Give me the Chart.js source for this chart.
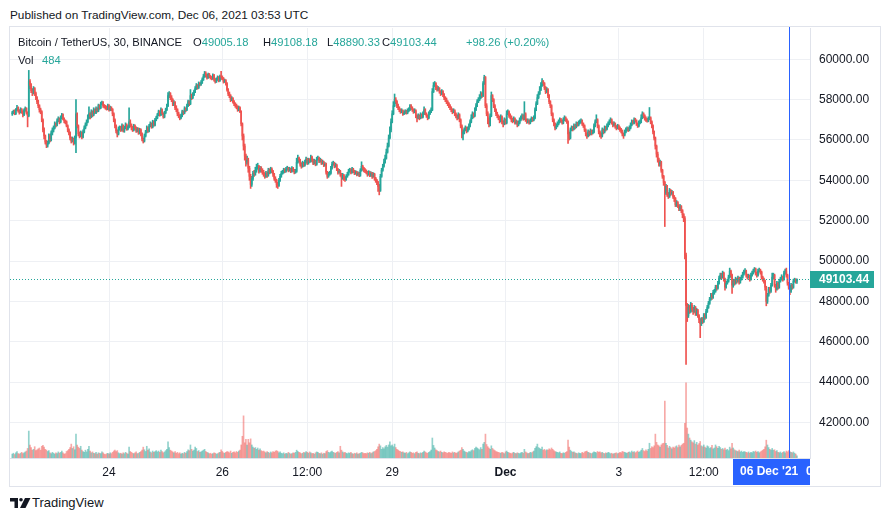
<!DOCTYPE html>
<html><head><meta charset="utf-8">
<script src="https://cdn.jsdelivr.net/npm/chart.js@4.4.1/dist/chart.umd.min.js"></script>
<style>
html,body{margin:0;padding:0;background:#fff;width:890px;height:521px;overflow:hidden;font-family:"Liberation Sans",Arial,sans-serif;color:#131722;}
#pub{position:absolute;left:10px;top:7px;font-size:11.8px;line-height:16px;white-space:nowrap;}
#frame{position:absolute;left:9px;top:26px;width:872px;height:461px;border:1px solid #e0e3eb;box-sizing:border-box;}
#wrap{position:absolute;left:10px;top:27px;width:870px;height:459px;}
.lg{position:absolute;font-size:11.2px;line-height:16px;white-space:nowrap;}
.g{color:#26a69a}
#foot{position:absolute;left:32px;top:495px;font-size:13px;line-height:16px;}
</style></head><body>
<div id="pub">Published on TradingView.com, Dec 06, 2021 03:53 UTC</div>
<div id="frame"></div>
<div id="wrap"><canvas id="c" width="870" height="459"></canvas></div>
<div class="lg" style="left:18px;top:34px">Bitcoin / TetherUS, 30, BINANCE</div>
<div class="lg" style="left:193px;top:34px">O<span class="g">49005.18</span></div>
<div class="lg" style="left:263px;top:34px">H<span class="g">49108.18</span></div>
<div class="lg" style="left:327px;top:34px">L<span class="g">48890.33</span></div>
<div class="lg" style="left:382px;top:34px">C<span class="g">49103.44</span></div>
<div class="lg g" style="left:466px;top:34px">+98.26 (+0.20%)</div>
<div class="lg" style="left:18px;top:52px">Vol</div>
<div class="lg g" style="left:42px;top:52px">484</div>
<svg width="21" height="10" viewBox="0 0 21 10" style="position:absolute;left:10px;top:498px">
<path d="M0 0H8V10H4.5V3.5H0Z" fill="#131722"/>
<circle cx="11" cy="1.8" r="1.8" fill="#131722"/>
<path d="M15 0H20.5L15.5 10H10Z" fill="#131722"/>
</svg>
<div id="foot">TradingView</div>
<script>
// ---- data (30-minute candles, Nov 22 07:00 UTC .. Dec 6 03:30 UTC) ----
const firstOpen = 57300;
const closes = [
57350,57420,57300,57500,57600,57450,57380,57520,57400,57250,
57480,57560,57350,57200,58900,58700,58450,58350,58550,58300,
58100,57900,57700,57500,57400,57000,56500,56200,55900,55750,
55850,56200,56000,56350,56500,56600,56800,56750,56950,57050,
56900,57100,57250,57050,56950,56900,56700,56500,56350,56100,
55950,56050,55850,56100,57300,56700,56300,56200,56350,56150,
56400,56600,56750,56900,57100,57300,57150,57400,57250,57500,
57350,57550,57450,57700,57600,57800,57850,57700,57650,57600,
57550,57700,57500,57600,57520,57300,57000,56700,56450,56300,
56550,56600,56500,56700,56450,56600,56750,56550,56650,56900,
56750,56600,56500,56700,56600,56450,56550,56350,56500,56300,
56050,55950,56200,56400,56600,56450,56700,56800,56650,56900,
56750,57000,57100,57250,57400,57250,57500,57300,57150,57350,
57500,57700,58200,58300,58100,58000,57800,57850,57600,57500,
57300,57200,57100,57200,57400,57350,57550,57500,57700,57900,
57800,58200,58100,58250,58400,58550,58700,58600,58800,58750,
58850,59000,59150,59300,59200,59100,59250,59150,59100,59050,
59200,59000,58900,59000,59100,58950,59150,59100,59050,58900,
58950,58800,58500,58300,58200,58000,58050,57900,57800,57700,
57650,57500,57600,57400,56800,56200,55700,55200,54900,55000,
54600,54200,53800,54100,54350,54300,54500,54650,54700,54450,
54600,54500,54400,54300,54200,54350,54250,54500,54400,54550,
54450,54300,54100,54000,53800,53750,54000,54200,54350,54400,
54500,54450,54550,54600,54500,54550,54450,54600,54500,54400,
54450,54900,55100,55000,54800,54700,54850,54750,54900,55050,
54850,55000,54950,55150,55000,54850,54950,54800,55050,55100,
54950,55000,54850,54900,54750,54800,54400,54200,54300,54350,
54600,54800,54850,54700,54750,54550,54400,54450,54300,54150,
54250,54100,54050,54200,54300,54450,54500,54400,54550,54450,
54350,54400,54300,54350,54250,54500,54700,54600,54500,54450,
54400,54300,54400,54250,54350,54200,54300,54100,54000,53900,
53700,53500,54200,54500,54700,54900,55100,55400,55700,56100,
56500,56900,57300,57700,58000,57900,57700,57600,57500,57400,
57450,57300,57350,57400,57350,57450,57500,57700,57600,57500,
57400,57450,57200,57100,57200,57100,57250,57150,57300,57500,
57300,57200,57100,57300,57400,57500,58400,58700,58800,58600,
58500,58550,58400,58300,58400,58250,58100,58000,57900,57800,
57700,57600,57500,57400,57450,57300,57200,57100,57250,57000,
56700,56300,56400,56500,56600,56450,56550,56700,56900,57100,
57300,57200,57500,57700,57900,58000,58100,58300,58200,58800,
59100,57700,57300,57000,56800,57200,58200,58000,57700,57500,
57300,57200,57100,57000,57150,56900,56800,57000,56850,57300,
57400,57200,57150,57000,56950,57050,56850,56900,56750,56850,
57000,57100,57200,57050,57300,57000,56900,56950,56850,56950,
57050,57000,57100,57500,57800,58100,58300,58500,58700,58900,
58800,58600,58400,58500,58200,57900,57700,57300,57000,56800,
56600,56700,56800,56900,57000,56950,56850,57000,57100,57000,
56900,56300,56100,56500,56600,56550,56700,56650,56800,56750,
56850,56900,56950,56800,56700,56500,56300,56200,56400,56300,
56450,56350,56400,56700,56900,57000,56700,56400,56300,56200,
56500,56400,56600,56550,56700,56800,56900,57000,56850,56750,
56800,56650,56600,56700,56600,56500,56450,56300,56250,56400,
56500,56550,56500,56600,56750,56900,56850,57000,56950,56800,
56700,56850,56900,57100,57300,57200,57050,57000,56950,57050,
57100,56900,56700,56400,56100,55700,55300,55000,54800,54900,
54500,54200,53900,53400,53700,53300,53200,53500,53350,53400,
53200,53100,52800,52900,52750,52600,52700,52500,52300,52100,
50300,47800,47300,47700,47500,47800,47600,47500,47700,47400,
47550,47300,47100,46900,47100,47000,47300,47200,47500,47700,
47900,48100,48300,48200,48450,48500,48700,48650,48900,49150,
49300,49200,49400,49100,48700,48900,49000,49200,49500,49300,
48800,49000,48900,49100,49000,49150,48950,49100,49200,49350,
49450,49500,49300,49200,49250,49100,49300,49400,49500,49600,
49400,49300,49500,49550,49450,49200,49100,49000,48700,48000,
48300,48600,48500,48800,49200,49300,48800,48600,48900,48700,
49000,49100,49200,49100,49400,49500,49300,48900,48700,48500,
48800,48700,49000,49050,49005.18,49103.44];
const highs = [
57420,57480,57500,57560,57720,57650,57500,57600,57560,57450,
57550,57640,57600,57400,59450,59000,58800,58550,58650,58600,
58380,58150,57980,57750,57580,57450,57050,56600,56250,55980,
55950,56300,56280,56450,56600,56700,56900,56850,57050,57150,
57100,57200,57320,57300,57100,57000,56950,56750,56550,56400,
56150,56150,56100,56200,58000,57350,56750,56400,56450,56400,
56500,56700,56850,57000,57250,57650,57350,57500,57450,57600,
57550,57650,57600,57780,57750,57880,57930,57900,57760,57720,
57680,57780,57750,57680,57650,57560,57350,57050,56750,56500,
56650,56700,56680,56800,56750,56680,56850,56800,56720,57600,
57000,56800,56680,56780,56750,56650,56620,56600,56580,56550,
56350,56100,56300,56480,56700,56650,56780,56900,56850,56980,
56950,57080,57180,57320,57480,57450,57600,57550,57350,57420,
57580,57780,58350,58400,58350,58200,58050,57950,57900,57700,
57550,57380,57250,57280,57480,57450,57650,57600,57780,57980,
57950,58500,58280,58350,58480,58650,58800,58750,58880,58850,
58950,59080,59250,59400,59380,59250,59320,59300,59200,59150,
59280,59250,59050,59080,59180,59150,59220,59400,59180,59100,
59020,59000,58850,58550,58380,58250,58150,58100,57950,57850,
57780,57700,57680,57650,57450,56850,56300,55800,55300,55200,
55100,54700,54300,54200,54450,54500,54650,54800,54850,54750,
54700,54680,54580,54500,54380,54450,54420,54600,54580,54650,
54620,54500,54350,54180,54050,53900,54100,54300,54450,54500,
54600,54580,54650,54700,54650,54650,54600,54680,54650,54550,
54550,55100,55250,55150,55050,54880,54950,54900,55000,55150,
55100,55100,55080,55250,55200,55050,55050,55000,55150,55200,
55150,55100,55050,55000,54950,54880,54850,54450,54400,54450,
54700,54900,54950,54900,54850,54800,54600,54550,54500,54350,
54350,54300,54180,54280,54400,54550,54600,54580,54650,54600,
54500,54480,54450,54420,54400,54580,54920,54750,54650,54580,
54520,54450,54480,54450,54420,54400,54380,54350,54150,54050,
53950,53800,54300,54600,54800,55050,55250,55550,55850,56250,
56650,57050,57450,57900,58280,58100,57950,57780,57650,57550,
57550,57500,57450,57500,57480,57550,57600,57750,57750,57650,
57550,57550,57500,57250,57300,57250,57350,57300,57400,57650,
57550,57350,57250,57400,57480,57600,58550,58850,58900,58850,
58700,58650,58600,58450,58500,58450,58300,58150,58080,57950,
57850,57750,57650,57550,57550,57500,57350,57250,57350,57300,
57050,56750,56500,56600,56700,56650,56650,56800,57000,57250,
57400,57350,57600,57800,58000,58100,58250,58400,58350,58900,
59210,59150,57800,57400,57100,57300,58380,58250,58050,57750,
57550,57380,57250,57180,57250,57200,56950,57100,57050,57450,
57500,57450,57300,57200,57080,57150,57100,57000,56950,56950,
57100,57200,57300,57250,57900,57350,57050,57050,57000,57050,
57150,57120,57200,57600,57900,58250,58400,58650,58850,59050,
58950,58850,58650,58600,58550,58250,57950,57750,57350,57050,
56850,56800,56900,57000,57100,57080,57000,57100,57200,57150,
57050,56950,56400,56600,56700,56680,56800,56780,56900,56880,
56950,57000,57050,57000,56850,56750,56550,56350,56500,56450,
56550,56500,56500,56800,57000,57250,57050,56750,56450,56350,
56600,56550,56700,56680,56800,56900,57000,57100,57050,56900,
56900,56850,56720,56780,56750,56650,56580,56500,56350,56500,
56600,56650,56620,56700,56850,57000,56980,57100,57080,57000,
56850,56950,57000,57250,57400,57350,57250,57150,57080,57150,
57610,57150,56950,56750,56450,56150,55750,55400,55100,55000,
54950,54550,54250,53950,53800,53750,53400,53600,53550,53500,
53450,53250,53150,53000,52950,52800,52800,52750,52550,52350,
52200,50400,47900,47850,47800,47950,47900,47700,47800,47750,
47650,47600,47350,47150,47200,47200,47400,47400,47600,47800,
48000,48200,48400,48400,48550,48600,48800,48800,49000,49250,
49400,49400,49500,49450,49150,49000,49100,49300,49650,49550,
49350,49100,49100,49200,49150,49250,49200,49200,49300,49450,
49550,49620,49550,49350,49350,49300,49400,49500,49600,49680,
49650,49450,49600,49650,49600,49500,49250,49150,49050,48750,
48400,48700,48700,48900,49400,49400,49350,48850,49000,48950,
49100,49200,49320,49250,49500,49600,49650,49350,48950,48750,
48900,48850,49100,49150,49120,49108.18];
const lows = [
57220,57300,57250,57260,57450,57380,57280,57340,57320,57150,
57200,57420,57280,56650,57150,58550,58350,58200,58280,58200,
58000,57800,57600,57380,57300,56900,56400,56050,55800,55620,
55650,55800,55900,55950,56250,56400,56550,56650,56700,56900,
56800,56850,57050,57000,56850,56800,56650,56400,56250,56000,
55850,55900,55750,55800,55370,56600,56200,56100,56150,56050,
56100,56350,56550,56700,56850,57050,57050,57100,57150,57200,
57300,57300,57380,57400,57520,57550,57750,57620,57580,57520,
57480,57500,57430,57450,57450,57200,56900,56600,56350,56150,
56250,56480,56420,56450,56400,56380,56550,56480,56500,56600,
56650,56500,56420,56450,56520,56380,56400,56280,56300,56200,
55950,55850,55900,56150,56350,56380,56400,56650,56580,56600,
56680,56700,56950,57050,57200,57180,57200,57250,57080,57100,
57300,57450,57650,58100,58000,57900,57700,57700,57500,57400,
57200,57100,57000,57050,57150,57250,57300,57400,57450,57650,
57700,57750,58000,58050,58200,58350,58500,58520,58550,58680,
58700,58800,58950,59100,59120,59020,59050,59080,59020,58980,
59000,58920,58820,58850,58950,58880,58900,59000,58980,58820,
58850,58720,58420,58200,58100,57900,57950,57820,57700,57620,
57550,57420,57450,57350,56700,56000,55500,55000,54700,54800,
54400,54000,53600,53700,54000,54200,54250,54400,54550,54350,
54400,54400,54300,54200,54100,54150,54150,54200,54320,54350,
54380,54200,54000,53900,53650,53600,53700,53950,54150,54300,
54350,54380,54400,54500,54420,54450,54380,54400,54430,54320,
54350,54400,54850,54900,54700,54600,54650,54680,54700,54850,
54780,54800,54880,54900,54920,54780,54800,54720,54750,55000,
54880,54900,54780,54800,54680,54700,54300,54100,54150,54250,
54300,54550,54750,54620,54650,54480,54300,54350,54200,53700,
54050,54000,53950,54000,54150,54250,54400,54320,54350,54380,
54280,54300,54220,54250,54180,54200,54450,54500,54420,54380,
54320,54200,54250,54180,54200,54100,54150,54000,53900,53780,
53450,53280,53450,54150,54450,54650,54850,55050,55350,55650,
56050,56400,56850,57250,57650,57800,57600,57500,57400,57320,
57350,57220,57250,57300,57280,57300,57400,57450,57520,57420,
57320,57350,57100,56900,57050,57000,57050,57080,57100,57250,
57250,57120,57000,57050,57250,57350,57450,58350,58650,58500,
58420,58450,58320,58200,58250,58150,58000,57900,57800,57700,
57600,57500,57400,57300,57350,57200,57100,57000,57050,56900,
56600,56100,56000,56300,56450,56350,56400,56500,56650,56850,
57050,57100,57150,57450,57650,57850,57950,58050,58100,58150,
58750,57600,57200,56800,56650,56700,57150,57900,57600,57400,
57200,57100,57000,56850,56900,56800,56650,56750,56780,56800,
57250,57120,57050,56900,56850,56900,56780,56800,56650,56700,
56800,56950,57050,56980,57000,56920,56820,56850,56780,56800,
56900,56920,56950,57050,57450,57750,58050,58250,58450,58650,
58700,58500,58300,58350,58100,57800,57600,57200,56900,56700,
56500,56550,56650,56750,56850,56880,56780,56800,56950,56920,
56820,55830,56000,56050,56450,56450,56500,56550,56600,56680,
56700,56800,56850,56720,56620,56420,56200,56080,56150,56200,
56250,56250,56300,56350,56650,56850,56600,56300,56150,56080,
56150,56300,56350,56450,56500,56650,56750,56850,56780,56650,
56700,56580,56500,56550,56520,56420,56350,56200,56080,56200,
56350,56450,56420,56450,56550,56700,56780,56800,56880,56720,
56620,56650,56800,56850,57050,57100,56980,56920,56880,56900,
57000,56800,56600,56300,56000,55550,55150,54900,54700,54700,
54400,54100,53750,51710,53300,53200,53100,53150,53250,53300,
53100,52950,52700,52700,52650,52500,52500,52400,52150,51950,
50100,44870,47000,47200,47400,47450,47500,47350,47450,47300,
47300,47200,46950,46200,46800,46900,46950,47100,47150,47450,
47650,47850,48050,48100,48150,48350,48450,48550,48600,48850,
49100,49100,49150,49000,48550,48650,48850,48950,49150,49200,
48400,48700,48800,48850,48900,48950,48850,48900,49050,49150,
49300,49400,49200,49100,49150,49000,49050,49250,49350,49450,
49300,49200,49250,49450,49350,49100,49000,48900,48550,47780,
47900,48250,48400,48450,48750,49100,48700,48450,48550,48600,
48650,48950,49050,49000,49050,49350,49200,48800,48600,48330,
48450,48600,48650,48950,48900,48890.33];
const volumes = [
900,1100,800,1200,1500,1000,900,1100,1300,1000,
1200,1400,1600,2200,6200,3000,2400,1800,2000,2600,
1700,1900,2100,2300,1800,2700,2900,2500,2000,1800,
1500,1700,1200,1000,1300,1100,900,1200,1000,1400,
1100,1300,1600,1200,900,1000,1500,1700,2000,2400,
3200,2200,2600,1900,5500,3000,2500,2200,2700,1800,
1500,1300,1800,1400,2000,2700,1600,1200,1400,1100,
1000,1300,900,1200,1100,1000,1400,1200,900,800,
1000,1100,900,1200,1000,1300,1600,1800,1500,1700,
1200,1000,1100,900,1200,1000,1300,1100,900,2500,
1500,1300,1100,1000,1200,1400,1000,1100,1300,1500,
1800,2500,1900,1500,2700,1800,2100,1400,1200,1600,
1300,1500,1700,1400,1600,1300,1800,1500,1200,1400,
1700,2000,3700,2400,1800,1600,1400,1200,1500,1100,
1300,1000,1200,900,1100,1000,1300,1100,1500,1900,
1700,3000,2000,1600,1800,2500,2200,1500,1700,1300,
1400,1600,1800,2000,1500,1300,1200,1000,1100,900,
1000,1200,1100,900,1000,1200,1300,1900,1500,1200,
1100,1300,1500,1400,1200,1600,1100,1300,1400,1200,
1500,1300,1600,1800,3000,5000,9700,3500,4300,3000,
4300,3500,4400,3000,2500,2200,2400,2000,2300,1800,
2100,1700,1500,1600,1400,1200,1500,1300,1100,1400,
1200,1500,1300,1600,1700,1500,1200,1400,1100,1000,
1200,900,1100,1000,1300,1100,900,1000,1200,1100,
1300,1800,1500,1300,1200,1000,1100,1300,1200,1500,
1300,1100,1400,1200,1000,1100,900,1200,1400,1300,
1100,1000,1200,900,1100,1000,1500,1700,1300,1200,
1400,1600,1300,1200,1100,1300,1500,1200,2700,1800,
1400,1200,1300,1100,1000,1200,1100,1300,1000,900,
1100,1000,1200,900,1000,1100,1300,1200,1000,1100,
1000,1200,1100,1300,1000,1200,1400,1500,1700,2000,
2600,3200,2800,2000,2400,2100,2600,2900,2500,3000,
3700,2800,3000,2600,3200,2400,2000,1800,1600,1500,
1300,1400,1200,1100,1300,1000,1200,1400,1300,1100,
1200,1000,1300,1400,1100,1000,1200,1100,1300,1600,
1400,1200,1100,1300,1500,1800,4600,2900,2300,1900,
1700,1500,1400,1600,1300,1200,1400,1300,1200,1100,
1300,1200,1100,1400,1200,1300,1100,1200,1400,1600,
1800,2400,2000,1600,1400,1300,1200,1500,1400,1700,
1900,1700,2200,2500,2300,2100,1900,2400,2000,3200,
3600,5500,3100,2600,2300,2000,2800,2200,1900,1700,
1500,1400,1300,1200,1100,1300,1200,1000,1400,1600,
1300,1200,1100,1000,1200,1300,1100,1000,1200,1100,
1000,1200,1300,1100,2000,1400,1200,1000,1100,1300,
1200,1400,1600,2200,2600,3200,2400,2200,2000,2500,
1800,2000,1700,1900,1800,2100,1900,2300,2000,1700,
1500,1400,1300,1200,1400,1100,1000,1200,1100,1300,
1500,4100,2500,1800,1500,1300,1400,1200,1100,1000,
1200,1100,1000,1300,1100,1400,1500,1600,1300,1200,
1100,1000,1200,1400,1300,1200,1500,1300,1400,1200,
1300,1100,1000,1200,1100,1300,1200,1000,1100,900,
1000,1100,1200,1000,1100,1300,1200,1500,1400,1300,
1200,1100,1300,1400,1200,1600,1300,1500,1200,1400,
1600,1300,1500,1800,2200,1700,1500,1900,1600,2000,
3400,2200,2600,2400,2800,5500,3600,3000,2800,2500,
3000,3300,3400,13100,3400,2900,2300,2700,2400,2100,
2500,2300,2600,2800,2400,3000,2600,2900,3200,3400,
8000,17300,6900,5500,4600,4100,3700,3500,4000,3200,
3600,3000,3300,3800,2800,2600,3000,2500,2300,2800,
2600,2200,2400,2900,2100,2300,3000,2600,2200,2700,
2400,2000,2200,1900,2300,1800,2000,1700,2500,2100,
3400,2300,1900,1700,1600,1500,1800,1400,1600,1300,
1500,1400,1300,1200,1400,1100,1300,1200,1500,1400,
1600,1300,1500,1200,1400,1600,1800,2000,2600,4100,
3000,2400,2000,1800,2200,1800,1900,1500,1700,1300,
1200,1400,1100,1300,1500,1200,1600,1400,1700,1500,
1300,1200,1400,1100,900,484];
// time axis: candle index of each labelled time and its label
const timeTickIdx = [82, 178, 250, 322, 418, 514, 586];
const timeTickLabels = ['24', '26', '12:00', '29', 'Dec', '3', '12:00'];
const priceTicks = [42000, 44000, 46000, 48000, 50000, 52000, 54000, 56000, 58000, 60000];
const crossIdx = 658;              // Dec 06 00:00 candle
const crossDate = "06 Dec '21";
const crossTime = '00:00';

// ---- derived ----
const opens = closes.map((c, i) => i === 0 ? firstOpen : closes[i - 1]);
const UP = '#26a69a', DOWN = '#ef5350';
const candleColors = closes.map((c, i) => c >= opens[i] ? UP : DOWN);
const volColors = closes.map((c, i) => c >= opens[i] ? 'rgba(38,166,154,0.5)' : 'rgba(239,83,80,0.5)');
const lastPrice = closes[closes.length - 1];
const FONT = '"Liberation Sans", Arial, sans-serif';
const GRID = '#eef0f4';

const overlay = {
  id: 'overlay',
  afterDatasetsDraw(chart) {
    const {ctx, chartArea: a, scales: {x, y}} = chart;
    const py = Math.round(y.getPixelForValue(lastPrice)) + 0.5;
    ctx.save();
    ctx.strokeStyle = UP; ctx.lineWidth = 1; ctx.setLineDash([1, 2]);
    ctx.beginPath(); ctx.moveTo(a.left, py); ctx.lineTo(a.right, py); ctx.stroke();
    ctx.restore();
    ctx.save();
    const cx = Math.round(x.getPixelForValue(crossIdx));
    ctx.fillStyle = '#2962ff';
    ctx.fillRect(cx, 0, 1, a.bottom);
    ctx.restore();
  },
  afterDraw(chart) {
    const {ctx, chartArea: a, scales: {x, y}} = chart;
    ctx.save();
    const py = y.getPixelForValue(lastPrice);
    ctx.fillStyle = UP;
    ctx.fillRect(a.right, Math.round(py) - 8, 64, 17);
    ctx.fillStyle = '#fff';
    ctx.font = 'bold 12px ' + FONT;
    ctx.textBaseline = 'middle';
    ctx.fillText(lastPrice.toFixed(2), a.right + 9, Math.round(py) + 0.5);
    const cx = x.getPixelForValue(crossIdx);
    ctx.beginPath(); ctx.rect(0, a.bottom, a.right, chart.height - a.bottom); ctx.clip();
    ctx.fillStyle = '#2962ff';
    ctx.fillRect(Math.round(cx) - 56, a.bottom + 1, 112, 26);
    ctx.fillStyle = '#fff';
    ctx.fillText(crossDate, Math.round(cx) - 49, a.bottom + 14);
    ctx.fillText(crossTime, Math.round(cx) + 17, a.bottom + 14);
    ctx.restore();
  }
};

new Chart(document.getElementById('c'), {
  type: 'bar',
  data: {
    datasets: [
      {label: 'Vol', data: volumes.map((v, i) => ({x: i, y: v})), yAxisID: 'yv',
       backgroundColor: volColors, barThickness: 1, order: 3, grouped: false},
      {label: 'wick', data: highs.map((h, i) => ({x: i, y: [lows[i], h]})), yAxisID: 'y',
       backgroundColor: candleColors, barThickness: 1, order: 2, grouped: false},
      {label: 'body', data: closes.map((c, i) => ({x: i, y: [opens[i], c]})), yAxisID: 'y',
       backgroundColor: candleColors, barThickness: 1, order: 1, grouped: false}
    ]
  },
  options: {
    responsive: false, animation: false, devicePixelRatio: 1,
    layout: {padding: {top: 1, left: 0, right: 0, bottom: 0}},
    plugins: {legend: {display: false}, tooltip: {enabled: false}},
    scales: {
      x: {
        type: 'linear', min: -1.92, max: 676.05, offset: false,
        grid: {color: GRID, drawTicks: false, offset: false},
        border: {color: '#e0e3eb'},
        ticks: {
          autoSkip: false, maxRotation: 0, padding: 7, color: '#131722',
          font: (c) => ({family: FONT, size: 12, weight: (c.tick && c.tick.label === 'Dec') ? 'bold' : 'normal'}),
          callback: (v, i) => timeTickLabels[i]
        },
        afterBuildTicks: (s) => { s.ticks = timeTickIdx.map(v => ({value: v})); },
        afterFit: (s) => { s.height = 28; s.paddingLeft = 0; s.paddingRight = 0; }
      },
      y: {
        position: 'right', min: 40236, max: 61552,
        grid: {color: GRID, drawTicks: false},
        border: {color: '#e0e3eb'},
        ticks: {padding: 9, color: '#131722', font: {family: FONT, size: 12},
          callback: (v) => Number(v).toFixed(2)},
        afterBuildTicks: (s) => { s.ticks = priceTicks.map(v => ({value: v})); },
        afterFit: (s) => { s.width = 70; s.paddingTop = 0; s.paddingBottom = 0; }
      },
      yv: {display: false, min: 0, max: 99000}
    }
  },
  plugins: [overlay]
});
</script>
</body></html>
